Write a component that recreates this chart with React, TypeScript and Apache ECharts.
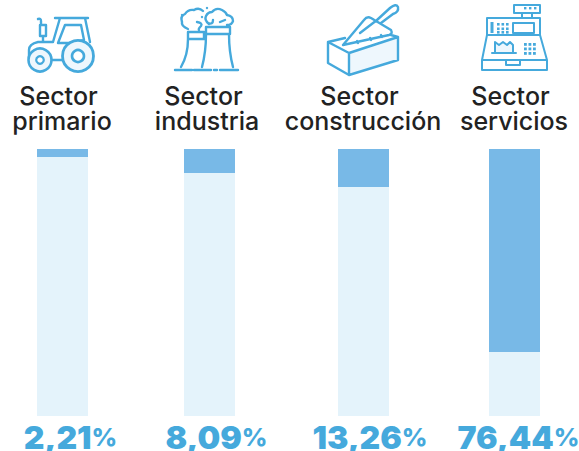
import React, { useEffect, useRef } from "react";
import * as echarts from "echarts";

const sectorWords = ["Sector", "Sector", "Sector", "Sector"];
const sectorNames = ["primario", "industria", "construcción", "servicios"];
const valueLabels = ["2,21", "8,09", "13,26", "76,44"];
const filledShare = [3.0, 9.0, 14.2, 76.0];
const trackTotal = [100, 100, 100, 100];

const barLeft = [37, 184, 338, 489];
const nameX = [62, 207, 363, 514];
const valueX = [70.5, 216.5, 370, 518.5];

const ICON = "#45a9dc";
const ICON_FILL = "#eef7fd";

const tractor = "M55 18 H88 M60 18 L53 42 M85 18 L90 42 M65 25 H81 L84 40 L71 43 H58 Z M40 25 H46 V36 H40 Z M41 25 V21 Q41 18 38 19 M43 36 V42 M53 42 H38 Q29 44 29 50 V58 L32 67 M49 60 H63";
const towers = "M188 32 H204 V39 H188 Z M188 39 Q188 55 181 67 M206 27 H230 V34 H206 Z M206 34 Q206 52 202 67 M229 34 Q229 52 233 67 M175 70 H192 M194 70 H211 M214 70 H217 M220 70 H238 M188 29 Q181 26 182 22 Q180 16 185 14 Q188 9 194 10 Q199 7 203 11 M197 22 Q203 23 201 26 Q198 29 199 30 M209 24 Q204 20 206 16 Q208 12 212 12 Q216 7 222 10 Q226 12 227 15 Q233 16 233 21 Q232 25 227 25 M220 22 L225 20 M213 20 Q213 25 208 23";
const brick = "M328 42 L345 38 M328 42 L349 53 L398 37 V60 L349 75 L328 63 Z M349 53 V75 M343 45 L364 20 Q367 16 371 18 L391 30 Q393 34 389 35 Z M360 33 L377 20 M377 20 L390 8 Q396 3 398 7 Q399 12 393 14 L381 23 M358 43 L357 41 M371 40 L370 38 M382 37 L381 35 M391 35 L398 37";
const brickFill = "M349 53 L398 37 V60 L349 75 Z";
const registerBody = "M487 18 H540 V35 H487 Z M514 5 H540 V13 H514 Z M522 13 V18 M532 13 V18 M487 35 L482 60 V70 H547 V60 L540 35 M482 60 H547 M506 60 V65 H520 V60 M492 53 H516 M495 53 V42 L499 45 L503 42 L507 45 L510 42 L513 45 V53 M513 23 H534 V33 H513 Z";
const receiptFill = "M495 53 V42 L499 45 L503 42 L507 45 L510 42 L513 45 V53 Z";
const cashBand = "M492 22 V33";

const reg = (name: string, d: string) => echarts.graphic.registerShape(name, echarts.graphic.extendPath(d, {}) as any);
reg("iconTractor", tractor);
reg("iconTowers", towers);
reg("iconBrick", brick);
reg("iconBrickFill", brickFill);
reg("iconRegister", registerBody);
reg("iconReceipt", receiptFill);
reg("iconBand", cashBand);

function icons(): any[] {
  const stroke = { stroke: ICON, fill: "none", lineWidth: 2.4, lineCap: "round", lineJoin: "round" };
  const circ = (cx: number, cy: number, r: number, lw: number, fill: string) => ({
    type: "circle", shape: { cx, cy, r }, style: { stroke: ICON, fill, lineWidth: lw },
  });
  const dots = (xs: number[], ys: number[], s: number) =>
    xs.flatMap((x) => ys.map((y) => ({ type: "rect", shape: { x, y, width: s, height: s }, style: { fill: ICON } })));
  const dot = (cx: number, cy: number, r: number) => ({ type: "circle", shape: { cx, cy, r }, style: { fill: ICON } });
  return [
    { type: "iconBrickFill", style: { fill: ICON_FILL } },
    { type: "iconReceipt", style: { fill: ICON_FILL } },
    { type: "iconTractor", style: stroke },
    circ(40, 60, 11.5, 2.6, ICON_FILL),
    circ(40, 60, 3.8, 2.2, "#fff"),
    circ(78, 56, 15.5, 2.8, ICON_FILL),
    circ(78, 56, 6, 2.6, "#fff"),
    { type: "iconTowers", style: stroke },
    dot(182, 15, 1.2), dot(202, 17, 1.2), dot(207, 8, 1.2),
    { type: "iconBrick", style: stroke },
    { type: "iconRegister", style: { ...stroke, lineWidth: 2 } },
    { type: "iconBand", style: { ...stroke, lineWidth: 3, lineCap: "butt" } },
    ...dots([497, 501.5, 506], [23, 27.5, 31], 2.6),
    ...dots([524, 528.5, 533], [43, 47.5, 52], 2.8),
    ...dots([524, 529, 534], [7], 2.4),
  ];
}

export default function App() {
  const ref = useRef<HTMLDivElement>(null);
  useEffect(() => {
    document.body.style.margin = "0";
    const chart = echarts.init(ref.current!, undefined, { renderer: "svg" });
    const font = "Inter, sans-serif";
    const nameRich = { fontFamily: font, fontSize: 25, lineHeight: 25, fontWeight: 500, fill: "#222222" };
    chart.setOption({
      animation: false,
      grid: barLeft.map((left) => ({ left, width: 51, top: 149, height: 267, containLabel: false })),
      xAxis: sectorNames.map((n, i) => ({ type: "category", gridIndex: i, data: [n], show: false })),
      yAxis: sectorNames.map((_, i) => ({ type: "value", gridIndex: i, min: 0, max: 100, show: false })),
      series: sectorNames.flatMap((n, i) => [
        { type: "bar", name: n + " resto", xAxisIndex: i, yAxisIndex: i, stack: "s" + i, barWidth: 51, silent: true,
          itemStyle: { color: "#e4f3fb" }, data: [trackTotal[i] - filledShare[i]] },
        { type: "bar", name: n, xAxisIndex: i, yAxisIndex: i, stack: "s" + i, barWidth: 51, silent: true,
          itemStyle: { color: "#78b9e7" }, data: [filledShare[i]] },
      ]),
      graphic: [
        ...icons(),
        ...sectorNames.map((n, i) => ({
          type: "text", x: nameX[i], y: 108.5,
          style: {
            text: `{t|${sectorWords[i]}}\n{n|${n}}`, textAlign: "center", textVerticalAlign: "middle",
            rich: { t: { ...nameRich, padding: [0, 7, 0, 0] }, n: nameRich },
          },
        })),
        ...valueLabels.map((v, i) => ({
          type: "text", x: valueX[i], y: 437,
          style: {
            text: `{a|${v}}{b|%}`, textAlign: "center", textVerticalAlign: "middle",
            rich: {
              a: { fontFamily: font, fontSize: 32, lineHeight: 24, fontWeight: 900, fill: ICON },
              b: { fontFamily: font, fontSize: 25, lineHeight: 24, fontWeight: 800, fill: ICON },
            },
          },
        })),
      ],
    });
    return () => chart.dispose();
  }, []);
  return <div ref={ref} style={{ width: 579, height: 451 }} />;
}
